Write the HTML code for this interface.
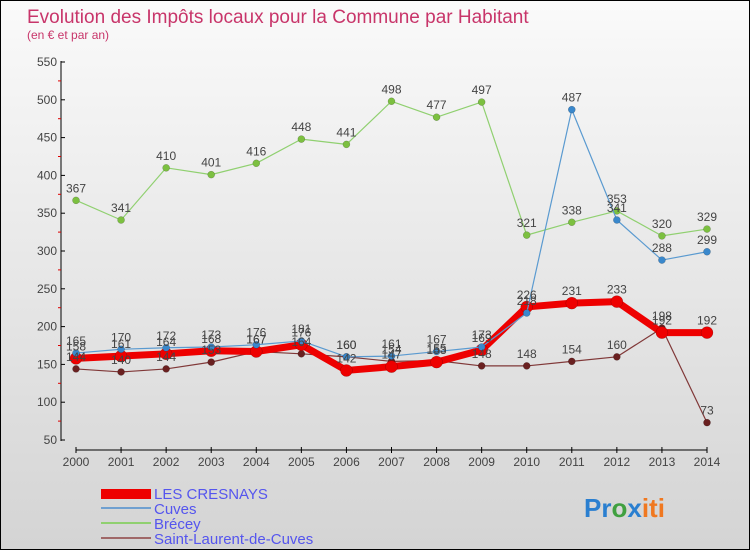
<!DOCTYPE html>
<html><head><meta charset="utf-8"><style>
body{margin:0}
#c{position:relative;width:748px;height:548px;border:1px solid #000;background:linear-gradient(#fafafa,#d4d4d4);font-family:"Liberation Sans",sans-serif;overflow:hidden}
</style></head><body>
<div id="c">
<svg id="s" width="748" height="548" style="position:absolute;left:0;top:0">
<text x="26" y="22" font-size="19" fill="#c8356a">Evolution des Impôts locaux pour la Commune par Habitant</text>
<text x="26" y="38" font-size="12" fill="#c8356a">(en € et par an)</text>
<g id="axes"></g><g id="series"></g><g id="labels"></g>
<g>
<rect x="100" y="488" width="50" height="10" fill="#ee0000"/>
<text x="153" y="498" font-size="15" fill="#5555ee">LES CRESNAYS</text>
<rect x="100" y="506" width="50" height="2" fill="#70a0d0"/>
<text x="153" y="513" font-size="15" fill="#5555ee">Cuves</text>
<rect x="100" y="521" width="50" height="2" fill="#90d070"/>
<text x="153" y="528" font-size="15" fill="#5555ee">Brécey</text>
<rect x="100" y="536" width="50" height="2" fill="#a06868"/>
<text x="153" y="543" font-size="15" fill="#5555ee">Saint-Laurent-de-Cuves</text>
</g>
<text x="583" y="516" font-size="26" font-weight="bold"><tspan fill="#2a7fd0">Pr</tspan><tspan fill="#40a040">o</tspan><tspan fill="#2a7fd0">x</tspan><tspan fill="#f07820">iti</tspan></text>
</svg>
</div>
<script>
const years=[2000,2001,2002,2003,2004,2005,2006,2007,2008,2009,2010,2011,2012,2013,2014];
const yTicks=[50,100,150,200,250,300,350,400,450,500,550];
const cresnays=[158,161,164,168,167,176,142,147,153,169,226,231,233,192,192];
const cuves=[165,170,172,173,176,181,160,161,167,173,218,487,341,288,299];
const brecey=[367,341,410,401,416,448,441,498,477,497,321,338,353,320,329];
const stlaurent=[144,140,144,153,167,164,160,154,155,148,148,154,160,198,73];
const NS='http://www.w3.org/2000/svg';
const xs=i=>75+i*(631/14);
const ys=v=>439-(v-50)*(378/500);
function mk(t,a,p){const e=document.createElementNS(NS,t);for(const k in a)e.setAttribute(k,a[k]);p.appendChild(e);return e;}
const ax=document.getElementById('axes');
let yl=mk('line',{x1:60,y1:60,x2:60,y2:440,stroke:'#000'},ax);


yTicks.forEach((v,i)=>{
  mk('line',{x1:60,y1:ys(v),x2:64,y2:ys(v),stroke:'#000'},ax);
  if(i<yTicks.length-1)mk('line',{x1:57,y1:ys(v+25),x2:60,y2:ys(v+25),stroke:'#d00'},ax);
  const t=mk('text',{x:56,y:ys(v)+4,'font-size':12,fill:'#444','text-anchor':'end'},ax);t.textContent=v;
  
  
});
let xl=mk('line',{x1:75,y1:449,x2:706,y2:449,stroke:'#000'},ax);


years.forEach((y,i)=>{
  mk('line',{x1:xs(i),y1:446,x2:xs(i),y2:452,stroke:'#000'},ax);
  const t=mk('text',{x:xs(i),y:465,'font-size':12,fill:'#444','text-anchor':'middle'},ax);t.textContent=y;
  
  
});
const sg=document.getElementById('series'),lg=document.getElementById('labels');
function draw(data,color,w,r,name,dot){
  const pl=mk('polyline',{points:data.map((v,i)=>xs(i)+','+ys(v)).join(' '),fill:'none',stroke:color,'stroke-width':w,'stroke-linejoin':'round'},sg);
  
  
  data.forEach((v,i)=>{
    const c=mk('circle',{cx:xs(i),cy:ys(v),r:r,fill:dot,stroke:'rgba(0,0,0,0.3)','stroke-width':0.5},sg);
    
    
    const t=mk('text',{x:xs(i),y:ys(v)-8,'font-size':12,fill:'#444','text-anchor':'middle'},lg);t.textContent=v;
    
    
  });
}
draw(brecey,'#90d070',1.2,3.5,'brecey','#7cc040');
draw(stlaurent,'#803838',1.2,3.5,'saint-laurent','#6a2020');
draw(cresnays,'#ee0000',7,6,'les-cresnays','#ee0000');
draw(cuves,'#5a9ad0',1.2,3.5,'cuves','#3a88cc');
</script>
</body></html>
